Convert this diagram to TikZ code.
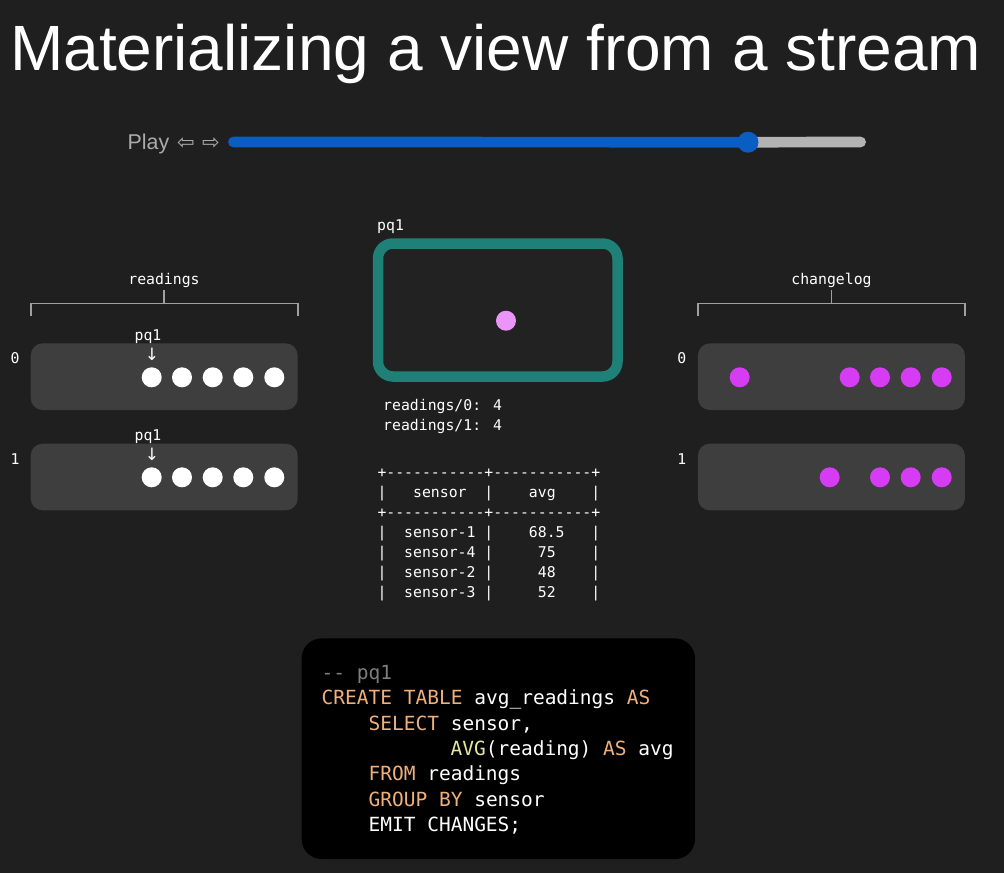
\documentclass[tikz,border=0pt]{standalone}
\usepackage{fontspec}
\setmainfont{Liberation Sans}
\newfontfamily\monofont{DejaVu Sans Mono}
\newfontfamily\symfont{DejaVu Sans}
\usepackage{xcolor}
\usepackage{tikz}
\usetikzlibrary{positioning}
\definecolor{bgcol}{HTML}{1F1F1F}
\definecolor{boxgray}{HTML}{3E3E3E}
\definecolor{brgray}{HTML}{A0A0A0}
\definecolor{tealc}{HTML}{1F8078}
\definecolor{innerc}{HTML}{222222}
\definecolor{pinkc}{HTML}{EC95F8}
\definecolor{magc}{HTML}{D53CF3}
\definecolor{slblue}{HTML}{0A5DC2}
\definecolor{slgray}{HTML}{B3B3B3}
\definecolor{playgray}{HTML}{ABABAB}
\definecolor{kw}{HTML}{EFB07B}
\definecolor{fn}{HTML}{E6E6A3}
\definecolor{cmt}{HTML}{7E7E7E}

\begin{document}
\begin{tikzpicture}[x=1pt, y=-1pt,
    every node/.style={inner sep=0pt, text=white},
    lbl/.style={font=\monofont\fontsize{14.8}{20}\selectfont},
    codeln/.style={anchor=base west, font=\monofont\fontsize{19.5}{25}\selectfont},
    partbox/.style={fill=boxgray, rounded corners=12pt, minimum width=267pt, minimum height=66.7pt},
    rec/.style={circle, fill=white, minimum size=20pt},
    chg/.style={circle, fill=magc, minimum size=20pt},
    bracket/.style={draw=brgray, line width=1.6pt}]
        % Background
        \fill[bgcol] (0,0) rectangle (1004,873);
        \useasboundingbox (0,0) rectangle (1004,873);

        % Title
        \node[anchor=base west, font=\fontsize{64}{70}\selectfont] (title) at (10,70) {Materializing a view from a stream};

        % Slider
        \node[anchor=base west, text=playgray, font=\fontsize{21.4}{24}\selectfont] (play) at (127.5,149.3) {Play};
        \node[text=playgray, font=\symfont\fontsize{21}{24}\selectfont] (back) at (186,143.7) {⇦};
        \node[text=playgray, font=\symfont\fontsize{21}{24}\selectfont] (fwd) at (211,143.7) {⇨};
        \coordinate (slstart) at (233.4,142);
        \coordinate (slpos) at (748,142.2);
        \coordinate (slend) at (860.6,142);
        \draw[slgray, line width=10.7pt, line cap=round] (slpos) -- (slend);
        \draw[slblue, line width=10.7pt, line cap=round] (slstart) -- (slpos);
        \node[circle, fill=slblue, minimum size=21pt] (knob) at (slpos) {};

        % Readings topic
        \node[lbl, anchor=base] (readlbl) at (164,284) {readings};
        \draw[bracket] (30.7,316) |- (297.7,303.3) -- (297.7,316);
        \draw[bracket] (164,303.3) -- ([yshift=-3pt]readlbl.south);
        \node[partbox] (r0) at (164.2,376.7) {};
        \node[partbox] (r1) at (164.2,477) {};
        \node[lbl, anchor=base] (r0num) at (15,363) {0};
        \node[lbl, anchor=base] (r1num) at (15,464) {1};
        \node[lbl, anchor=base] (r0pq) at (148,340) {pq1};
        \node[lbl, anchor=base] (r1pq) at (148,440) {pq1};
        \node[font=\symfont\fontsize{17}{20}\selectfont] (r0arr) at (152,354.5) {↓};
        \node[font=\symfont\fontsize{17}{20}\selectfont] (r1arr) at (152,454.5) {↓};
        \node[rec] (r0a) at (151.7,377.3) {};
        \node[rec] (r0b) at (182,377.3) {};
        \node[rec] (r0c) at (212.7,377.3) {};
        \node[rec] (r0d) at (243.3,377.3) {};
        \node[rec] (r0e) at (274.3,377.3) {};
        \node[rec] (r1a) at (151.7,477.3) {};
        \node[rec] (r1b) at (182,477.3) {};
        \node[rec] (r1c) at (212.7,477.3) {};
        \node[rec] (r1d) at (243.3,477.3) {};
        \node[rec] (r1e) at (274.3,477.3) {};

        % Persistent query
        \node[lbl, anchor=base west] (pqlbl) at (377,230.7) {pq1};
        \node[draw=tealc, line width=10.5pt, fill=innerc, rounded corners=15pt,
              minimum width=239.5pt, minimum height=133pt] (pq) at (497.75,310) {};
        \node[circle, fill=pinkc, minimum size=20pt] (pqdot) at (506,320.7) {};
        \node[lbl, anchor=base west] (off0) at (383,410.7) {readings/0: 4};
        \node[lbl, anchor=base west] (off1) at (383,430.7) {readings/1: 4};

        % Table
        \node[lbl, anchor=base west] (t1) at (377.3,477.5) {+-{}-{}-{}-{}-{}-{}-{}-{}-{}-{}-+-{}-{}-{}-{}-{}-{}-{}-{}-{}-{}-+};
        \node[lbl, anchor=base west] (t2) at (377.3,497.5) {|~~~sensor~~|~~~~avg~~~~|};
        \node[lbl, anchor=base west] (t3) at (377.3,517.5) {+-{}-{}-{}-{}-{}-{}-{}-{}-{}-{}-+-{}-{}-{}-{}-{}-{}-{}-{}-{}-{}-+};
        \node[lbl, anchor=base west] (t4) at (377.3,537.5) {|~~sensor-1~|~~~~68.5~~~|};
        \node[lbl, anchor=base west] (t5) at (377.3,557.5) {|~~sensor-4~|~~~~~75~~~~|};
        \node[lbl, anchor=base west] (t6) at (377.3,577.5) {|~~sensor-2~|~~~~~48~~~~|};
        \node[lbl, anchor=base west] (t7) at (377.3,597.5) {|~~sensor-3~|~~~~~52~~~~|};

        % Changelog topic
        \node[lbl, anchor=base] (chglbl) at (831.5,284) {changelog};
        \draw[bracket] (697.7,316) |- (965,303.3) -- (965,316);
        \draw[bracket] (831.5,303.3) -- ([yshift=-3pt]chglbl.south);
        \node[partbox] (c0) at (831.4,376.7) {};
        \node[partbox] (c1) at (831.4,477) {};
        \node[lbl, anchor=base] (c0num) at (681.7,363) {0};
        \node[lbl, anchor=base] (c1num) at (681.7,464) {1};
        \node[chg] (c0a) at (739.7,377.3) {};
        \node[chg] (c0b) at (849.7,377.3) {};
        \node[chg] (c0c) at (880,377.3) {};
        \node[chg] (c0d) at (910.7,377.3) {};
        \node[chg] (c0e) at (941.7,377.3) {};
        \node[chg] (c1a) at (829.7,477.3) {};
        \node[chg] (c1b) at (880,477.3) {};
        \node[chg] (c1c) at (910.7,477.3) {};
        \node[chg] (c1d) at (941.7,477.3) {};

        % Query code
        \node[fill=black, rounded corners=20pt, minimum width=393.3pt, minimum height=220.7pt] (code) at (498.3,748.7) {};
        \node[codeln] (q1) at (321.5,679.3) {\textcolor{cmt}{-{}- pq1}};
        \node[codeln] (q2) at (321.5,704.6) {\textcolor{kw}{CREATE TABLE} avg\_readings \textcolor{kw}{AS}};
        \node[codeln] (q3) at (368.4,730) {\textcolor{kw}{SELECT} sensor,};
        \node[codeln] (q4) at (450.4,755.4) {\textcolor{fn}{AVG}(reading) \textcolor{kw}{AS} avg};
        \node[codeln] (q5) at (368.4,780.8) {\textcolor{kw}{FROM} readings};
        \node[codeln] (q6) at (368.4,806.2) {\textcolor{kw}{GROUP BY} sensor};
        \node[codeln] (q7) at (368.4,831.6) {EMIT CHANGES;};
    \end{tikzpicture}
\end{document}
